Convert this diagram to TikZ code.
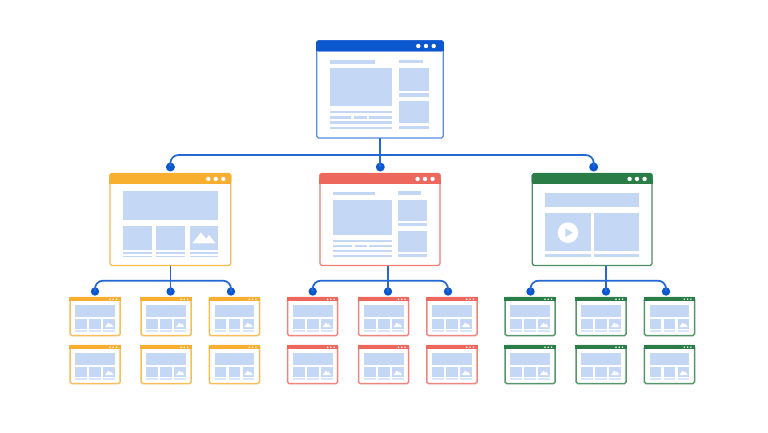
\documentclass[tikz,border=0pt]{standalone}
\definecolor{cblue}{HTML}{0B57D0}
\definecolor{cline}{HTML}{3F76D9}
\definecolor{cpale}{HTML}{C4D7F4}
\definecolor{corange}{HTML}{F8AE2F}
\definecolor{cred}{HTML}{EE675C}
\definecolor{cgreen}{HTML}{2A7D46}
\tikzset{
  x=1pt,y=-1pt,
  bigwin/.style={draw=#1!85!white,fill=white,line width=1.3pt,rounded corners=1.8pt,inner sep=0pt,outer sep=0pt},
  smallwin/.style={draw=#1!80!white,fill=white,line width=1.5pt,rounded corners=1.8pt,inner sep=0pt,outer sep=0pt,minimum width=50.2pt,minimum height=38.2pt},
  pale/.style={fill=cpale},
  conn/.style={draw=cblue!90!white,line width=1.7pt,rounded corners=8pt},
  stem/.style={draw=cblue!90!white,line width=1.7pt},
  joint/.style={circle,fill=cblue,inner sep=0pt,minimum size=#1},
  joint/.default=9pt,
}
% name, x1, y1, x2, y2, colour
\newcommand{\bigwindow}[6]{%
  \pgfmathsetmacro{\winw}{#4-#2}\pgfmathsetmacro{\winh}{#5-#3}%
  \node[bigwin=#6,minimum width=\winw pt,minimum height=\winh pt] (#1) at ({(#2+#4)/2},{(#3+#5)/2}) {};
  \fill[#6,rounded corners=1.8pt] (#2-.6,#3+10.3) |- (#4+.6,#3-.6) |- cycle;
  \fill[#6] (#2-.6,#3+5) rectangle (#4+.6,#3+10.3);
  \foreach \d in {7.4,15,22.4}{\fill[white] (#4-\d,#3+5.3) circle (2.2);}
}
% name, left, top, colour
\newcommand{\smallwindow}[4]{%
  \node[smallwin=#4] (#1) at (#2+25.1,#3+19.1) {};
  \begin{scope}[shift={(#2,#3)}]
    \fill[#4] (-.7,-.7) rectangle (50.9,3.8);
    \foreach \d in {3.6,6.9,10.2}{\fill[white] (50.2-\d,1.7) circle (.85);}
    \fill[pale] (5.3,7) rectangle (45,19);
    \fill[pale] (5.3,21.7) rectangle (17,31);
    \fill[pale] (19.3,21.7) rectangle (31,31);
    \fill[pale] (33.3,21.7) rectangle (45,31);
    \fill[cpale!65!white] (5.3,32) rectangle (17,34.2);
    \fill[cpale!65!white] (19.3,32) rectangle (31,34.2);
    \fill[cpale!65!white] (33.3,32) rectangle (45,34.2);
    \fill[white] (35,29.6) -- (38.4,25) -- (40,27.2) -- (41,26) -- (43.6,29.6) -- cycle;
  \end{scope}
}
\begin{document}
\begin{tikzpicture}
\useasboundingbox[fill=white] (0,0) rectangle (768,432);

% ---------- windows ----------
\bigwindow{top}{316.7}{41}{443.3}{138}{cline}
\fill[cblue,rounded corners=1.8pt] (316.1,51.3) |- (443.9,40.4) |- cycle;
\fill[cblue] (316.1,46) rectangle (443.9,51.3);
\foreach \d in {418.3,426,433.7}{\fill[white] (\d,46) circle (2.2);}
\bigwindow{orange}{110}{173.6}{230.7}{265.5}{corange}
\bigwindow{red}{320}{173.6}{440}{265.5}{cred}
\bigwindow{green}{532.3}{173.6}{652}{265.5}{cgreen}

% top content
\fill[pale] (330.3,60) rectangle (374.5,63.7);
\fill[pale] (330.3,68.3) rectangle (392.3,106.3);
\fill[pale] (330.3,110.7) rectangle (392.3,113.3);
\fill[pale] (330.3,116) rectangle (351,118.7);
\fill[pale] (354,116) rectangle (366.7,118.7);
\fill[pale] (368.7,116) rectangle (392.3,118.7);
\fill[pale] (330.3,121.3) rectangle (392.3,124);
\fill[pale] (330.3,126.7) rectangle (392.3,129.3);
\fill[pale] (399.3,59.7) rectangle (423.3,63);
\fill[pale] (399.3,68.3) rectangle (429.3,90.7);
\fill[pale] (399.3,93.3) rectangle (429.3,96.7);
\fill[pale] (399.3,101) rectangle (429.3,123.3);
\fill[pale] (399.3,126) rectangle (429.3,129.3);

% orange content
\fill[pale] (122.7,191) rectangle (218.3,220.3);
\fill[pale] (122.7,226) rectangle (151.7,250);
\fill[pale] (156.3,226) rectangle (185.3,250);
\fill[pale] (189.7,226) rectangle (218.3,250);
\foreach \a/\b in {122.7/151.7,156.3/185.3,189.7/218.3}{
  \fill[pale] (\a,252) rectangle (\b,253.7);
  \fill[pale] (\a,255.7) rectangle (\b,257.3);
}
\fill[white] (192.3,243.4) -- (201,232.4) -- (206.2,239) -- (209,235) -- (215.8,243.4) -- cycle;

% red content
\fill[pale] (332.7,191.7) rectangle (374.7,194.7);
\fill[pale] (332.7,199.7) rectangle (391.7,235.3);
\fill[pale] (332.7,239.7) rectangle (391.7,242);
\fill[pale] (332.7,244.7) rectangle (352.3,247);
\fill[pale] (355.3,244.7) rectangle (367.3,247);
\fill[pale] (369.3,244.7) rectangle (391.7,247);
\fill[pale] (332.7,249.7) rectangle (391.7,252);
\fill[pale] (332.7,254.7) rectangle (391.7,257);
\fill[pale] (398.3,191.3) rectangle (420.7,194.7);
\fill[pale] (398.3,199.7) rectangle (427,220.7);
\fill[pale] (398.3,223) rectangle (427,226);
\fill[pale] (398.3,230.7) rectangle (427,251.7);
\fill[pale] (398.3,254.3) rectangle (427,257.3);

% green content
\fill[pale] (545.3,192.7) rectangle (639.3,207.3);
\fill[pale] (545.3,213.3) rectangle (590.7,251);
\fill[pale] (594,213.3) rectangle (639.3,251);
\fill[pale] (545.3,254.3) rectangle (590.7,257.3);
\fill[pale] (594,254.3) rectangle (639.3,257.3);
\fill[white] (568,232.7) circle (10.3);
\fill[cpale] (565.4,228.4) -- (572.8,232.7) -- (565.4,237) -- cycle;

% small windows
\foreach \n/\x in {1/70,2/141,3/209.3}{
  \smallwindow{oa\n}{\x}{297.5}{corange}
  \smallwindow{ob\n}{\x}{345.5}{corange}
}
\foreach \n/\x in {1/287.5,2/358.5,3/426.8}{
  \smallwindow{ra\n}{\x}{297.5}{cred}
  \smallwindow{rb\n}{\x}{345.5}{cred}
}
\foreach \n/\x in {1/505,2/576,3/644.3}{
  \smallwindow{ga\n}{\x}{297.5}{cgreen}
  \smallwindow{gb\n}{\x}{345.5}{cgreen}
}

% ---------- connectors ----------
\node[joint] (jo) at (170.4,167) {};
\node[joint] (jr) at (380.3,167) {};
\node[joint] (jg) at (593.7,167) {};
\node[joint=8.4pt] (jo1) at (95,291.5) {};
\node[joint=8.4pt] (jo2) at (170.6,291.5) {};
\node[joint=8.4pt] (jo3) at (231,291.5) {};
\node[joint=8.4pt] (jr1) at (312.7,291.5) {};
\node[joint=8.4pt] (jr2) at (388,291.5) {};
\node[joint=8.4pt] (jr3) at (448,291.5) {};
\node[joint=8.4pt] (jg1) at (530.5,291.5) {};
\node[joint=8.4pt] (jg2) at (606,291.5) {};
\node[joint=8.4pt] (jg3) at (666,291.5) {};
\coordinate (bus) at (380.3,155);
\coordinate (busO) at (170.6,280.7);
\coordinate (busR) at (388,280.7);
\coordinate (busG) at (606,280.7);
\draw[stem] (jr |- top.south) -- (jr.center);
\draw[conn] (jo.center) |- (bus) -| (jg.center);
\draw[stem] (jo2 |- orange.south) -- (jo2.center);
\draw[conn] (jo1.center) |- (busO) -| (jo3.center);
\draw[stem] (jr2 |- red.south) -- (jr2.center);
\draw[conn] (jr1.center) |- (busR) -| (jr3.center);
\draw[stem] (jg2 |- green.south) -- (jg2.center);
\draw[conn] (jg1.center) |- (busG) -| (jg3.center);
\end{tikzpicture}
\end{document}
